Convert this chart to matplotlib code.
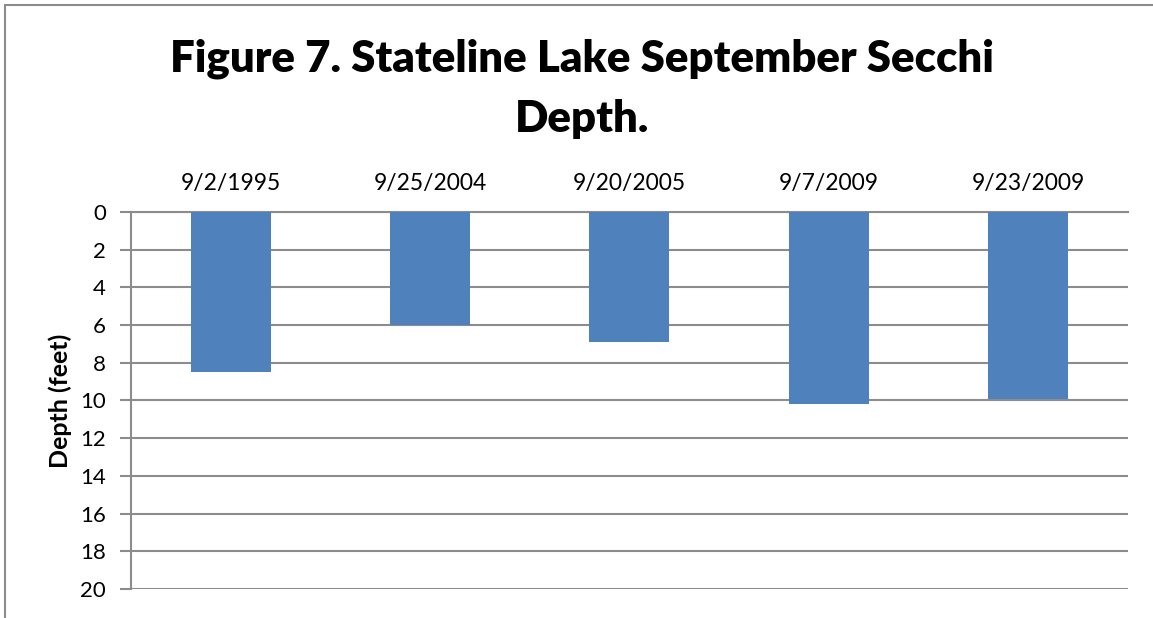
import matplotlib.pyplot as plt
import matplotlib.patches as mpatches

# Данные
dates = ['9/2/1995', '9/25/2004', '9/20/2005', '9/7/2009', '9/23/2009']
depth = [8.5, 6.0, 6.9, 10.2, 9.9]

plt.rcParams['font.family'] = ['Lato', 'DejaVu Sans']

fig = plt.figure(figsize=(11.53, 6.18), dpi=100)
ax = fig.add_axes([0.1136, 0.047, 0.8644, 0.61])

x = range(len(dates))
ax.bar(x, depth, width=0.4, color='#4F81BD', zorder=3)

ax.set_xlim(-0.5, len(dates) - 0.5)
ax.set_ylim(20, 0)
ax.set_yticks(range(0, 21, 2))
ax.set_xticks(list(x))
ax.set_xticklabels(dates)
ax.xaxis.tick_top()
ax.tick_params(axis='x', length=0, pad=13, labelsize=16.5)
ax.tick_params(axis='y', length=8, width=1.5, color='#8c8c8c', pad=10, labelsize=16)

ax.grid(axis='y', color='#8c8c8c', linewidth=1.5, zorder=0)
for side in ['right', 'bottom']:
    ax.spines[side].set_visible(False)
for side in ['left', 'top']:
    ax.spines[side].set_color('#8c8c8c')
    ax.spines[side].set_linewidth(1.5)

ax.set_ylabel('Depth (feet)', fontsize=18, fontweight='bold', labelpad=6)

fig.text(0.505, 0.905, 'Figure 7. Stateline Lake September Secchi', ha='center',
         va='center', fontsize=31.5, fontweight='heavy')
fig.text(0.505, 0.808, 'Depth.', ha='center', va='center', fontsize=31.5, fontweight='heavy')

# рамка
fig.patches.append(mpatches.Rectangle((5 / 1153, -0.1), 1.2, 1 - 5 / 618 + 0.1,
                                      transform=fig.transFigure, fill=False,
                                      edgecolor='#8c8c8c', linewidth=1.5))

fig.savefig('out.png', dpi=100)
